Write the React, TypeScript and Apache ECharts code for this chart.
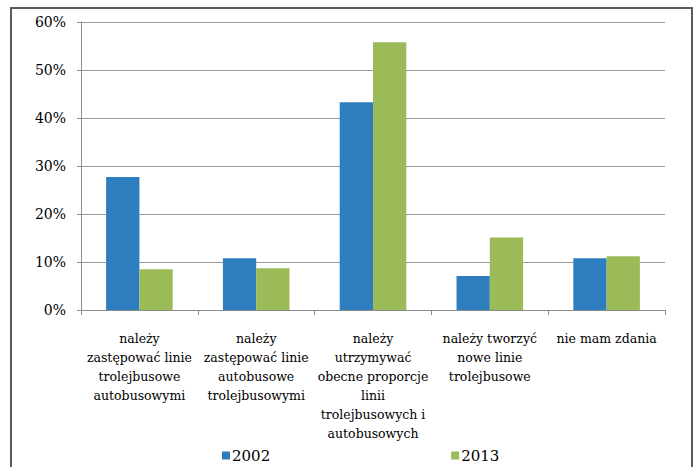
import React, { useEffect, useRef } from "react";
import * as echarts from "echarts";

const categories = [
  "należy\nzastępować linie\ntrolejbusowe\nautobusowymi",
  "należy\nzastępować linie\nautobusowe\ntrolejbusowymi",
  "należy\nutrzymywać\nobecne proporcje\nlinii\ntrolejbusowych i\nautobusowych",
  "należy tworzyć\nnowe linie\ntrolejbusowe",
  "nie mam zdania",
];

const values2002 = [27.7, 10.8, 43.3, 7.1, 10.8];
const values2013 = [8.5, 8.7, 55.8, 15.1, 11.2];

const yTicks = { min: 0, max: 60, interval: 10 };

const SERIF = "DejaVu Serif";

export default function App() {
  const ref = useRef<HTMLDivElement>(null);

  useEffect(() => {
    document.body.style.margin = "0";
    if (!ref.current) return;
    const chart = echarts.init(ref.current, null, { renderer: "svg" });
    chart.setOption({
      animation: false,
      backgroundColor: "#ffffff",
      grid: { left: 81, right: 33, top: 22, bottom: 157, containLabel: false },
      legend: {
        left: 217,
        top: 443,
        itemWidth: 8,
        itemHeight: 8,
        itemGap: 181,
        icon: "rect",
        textStyle: { fontFamily: SERIF, fontSize: 15, color: "#000", padding: [0, 0, 0, -3] },
        data: ["2002", "2013"],
      },
      xAxis: {
        type: "category",
        data: categories,
        axisLine: { lineStyle: { color: "#8c8c8c", width: 1 } },
        axisTick: { show: true, length: 5, lineStyle: { color: "#8c8c8c" } },
        axisLabel: {
          interval: 0,
          margin: 19,
          fontFamily: SERIF,
          fontSize: 12.5,
          lineHeight: 19,
          color: "#000",
          align: "center",
        },
      },
      yAxis: {
        type: "value",
        min: yTicks.min,
        max: yTicks.max,
        interval: yTicks.interval,
        axisLine: { show: true, lineStyle: { color: "#8c8c8c", width: 1 } },
        axisTick: { show: true, length: 4, lineStyle: { color: "#8c8c8c" } },
        splitLine: { lineStyle: { color: "#9a9a9a", width: 1 } },
        axisLabel: {
          formatter: "{value}%",
          margin: 15,
          fontFamily: SERIF,
          fontSize: 14,
          color: "#000",
        },
      },
      series: [
        {
          name: "2002",
          type: "bar",
          data: values2002,
          barGap: "0%",
          barCategoryGap: "43%",
          itemStyle: { color: "#2E7EBF" },
        },
        {
          name: "2013",
          type: "bar",
          data: values2013,
          barGap: "0%",
          barCategoryGap: "43%",
          itemStyle: { color: "#9BBB59" },
        },
      ],
      graphic: [
        {
          type: "rect",
          shape: { x: 11, y: 8, width: 681, height: 480 },
          style: { fill: "none", stroke: "#5a5a5a", lineWidth: 2 },
          silent: true,
          z: 100,
        },
      ],
    });
    return () => chart.dispose();
  }, []);

  return <div ref={ref} style={{ width: 698, height: 467 }} />;
}
